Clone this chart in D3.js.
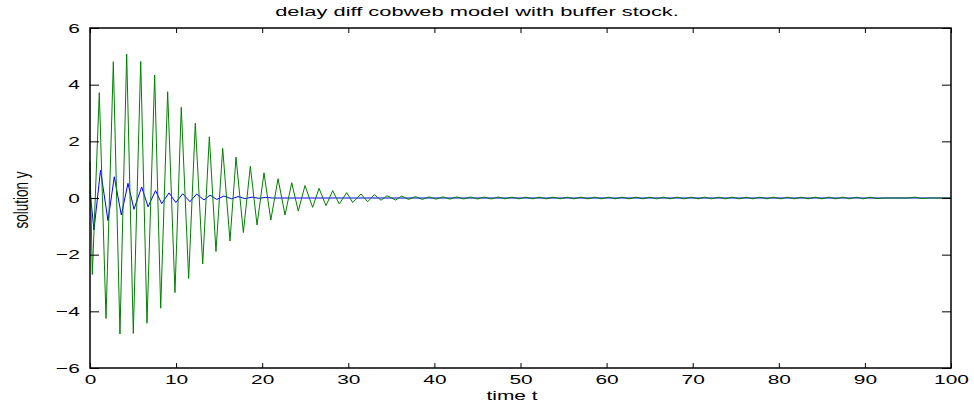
<!DOCTYPE html>
<html>
<head>
<meta charset="utf-8">
<script src="https://cdn.jsdelivr.net/npm/d3@7"></script>
<style>
  body { margin: 0; background: #fff; }
  svg text { font-family: "Liberation Sans", Arial, sans-serif; fill: #000; }
</style>
</head>
<body>
<div id="chart"></div>
<script>
// values: [time, y]
var greenPts = [
  [0, 1.28], [0.27, -2.7], [1.08, 3.72], [1.86, -4.25], [2.71, 4.81], [3.48, -4.8],
  [4.26, 5.08], [5.03, -4.78], [5.89, 4.82], [6.62, -4.42], [7.51, 4.34], [8.21, -3.89],
  [9.02, 3.75], [9.87, -3.34], [10.6, 3.2], [11.46, -2.84], [12.23, 2.64], [13.09, -2.33],
  [13.86, 2.16], [14.63, -1.89], [15.41, 1.75], [16.26, -1.52], [16.96, 1.44], [17.81, -1.22],
  [18.62, 1.12], [19.4, -0.95], [20.21, 0.89], [21.0, -0.78], [21.84, 0.68], [22.65, -0.6],
  [23.43, 0.54], [24.19, -0.46], [24.97, 0.44], [25.86, -0.33], [26.6, 0.34], [27.41, -0.27],
  [28.19, 0.26], [28.95, -0.21], [29.81, 0.19], [30.51, -0.16], [31.47, 0.14], [32.25, -0.13],
  [33.02, 0.12], [33.8, -0.08], [34.49, 0.08], [35.5, -0.07], [36.2, 0.07], [37.0, -0.05],
  [37.8, 0.05], [38.6, -0.05], [39.4, 0.04], [40.2, -0.04], [41.0, 0.04], [41.8, -0.04],
  [42.6, 0.04], [43.4, -0.035], [44.2, 0.035], [45.0, -0.035], [45.8, 0.035], [46.6, -0.035],
  [47.4, 0.035], [48.2, -0.03], [49.0, 0.03], [49.8, -0.03], [50.6, 0.03], [51.4, -0.03],
  [52.2, 0.03], [53.0, -0.03], [53.8, 0.03], [54.6, -0.03], [55.4, 0.03], [56.2, -0.03],
  [57.0, 0.03], [57.8, -0.03], [58.6, 0.03], [59.4, -0.03], [60.2, 0.03], [61.0, -0.03],
  [61.8, 0.03], [62.6, -0.03], [63.4, 0.03], [64.2, -0.03], [65.0, 0.03], [65.8, -0.03],
  [66.6, 0.03], [67.4, -0.03], [68.2, 0.03], [69.0, -0.03], [69.8, 0.03], [70.6, -0.03],
  [71.4, 0.03], [72.2, -0.03], [73.0, 0.03], [73.8, -0.03], [74.6, 0.03], [75.4, -0.03],
  [76.2, 0.03], [77.0, -0.03], [77.8, 0.03], [78.6, -0.03], [79.4, 0.03], [80.2, -0.03],
  [81.0, 0.03], [81.8, -0.03], [82.6, 0.03], [83.4, -0.03], [84.2, 0.03], [85.0, -0.03],
  [85.8, 0.03], [86.6, -0.03], [87.4, 0.03], [88.2, -0.03], [89.0, 0.03], [89.8, -0.03],
  [90.6, 0.03], [91.4, -0.02], [92.2, 0.0], [95.0, 0.0], [95.8, 0.03], [96.6, -0.02],
  [97.4, 0.0], [100, 0.0]
];

var bluePts = [
  [0, 0.25], [0.46, -1.13], [1.22, 0.98], [2.09, -0.8], [2.82, 0.75], [3.64, -0.6],
  [4.41, 0.52], [5.11, -0.4], [6.0, 0.39], [6.74, -0.31], [7.61, 0.26], [8.33, -0.2],
  [9.18, 0.18], [9.97, -0.16], [10.77, 0.15], [11.61, -0.13], [12.39, 0.14], [13.24, -0.07],
  [13.94, 0.1], [14.72, -0.05], [15.55, 0.07], [16.46, -0.03], [17.19, 0.05], [18.0, -0.02],
  [18.8, 0.03], [19.6, -0.01], [20.4, 0.02], [21.2, 0.0], [100, 0.0]
];

var xTicks = [0, 10, 20, 30, 40, 50, 60, 70, 80, 90, 100];
var yTicks = [-6, -4, -2, 0, 2, 4, 6];

var titleText = "delay diff cobweb model with buffer stock.";
var xLabel = "time t";
var yLabel = "solution y";

var W = 974, H = 404;
var margin = {left: 90, right: 23, top: 28, bottom: 36};
var width = W - margin.left - margin.right;
var height = H - margin.top - margin.bottom;
var stretch = 1.55;   // the picture is wider than tall, text looks stretched
var fontSize = "13.5px";

var x = d3.scaleLinear().domain([0, 100]).range([0, width]);
var y = d3.scaleLinear().domain([-6, 6]).range([height, 0]);

var svg = d3.select("#chart").append("svg")
  .attr("width", W).attr("height", H);

var g = svg.append("g")
  .attr("transform", "translate(" + margin.left + "," + margin.top + ")");

var line = d3.line()
  .x(function(d) { return x(d[0]); })
  .y(function(d) { return y(d[1]); });

g.append("path").datum(bluePts)
  .attr("d", line).attr("fill", "none")
  .attr("stroke", "#0000ff").attr("stroke-width", 1);

g.append("path").datum(greenPts)
  .attr("d", line).attr("fill", "none")
  .attr("stroke", "#008000").attr("stroke-width", 1);

// axes with inward ticks (matlab style)
var xAxis = d3.axisBottom(x).tickValues(xTicks).tickSizeInner(-5).tickSizeOuter(0).tickPadding(6);
var yAxis = d3.axisLeft(y).tickValues(yTicks).tickSizeInner(-9).tickSizeOuter(0).tickPadding(6.5);

var gx = g.append("g").attr("transform", "translate(0," + height + ")").call(xAxis);
var gy = g.append("g").call(yAxis);
g.append("g").call(d3.axisTop(x).tickValues(xTicks).tickSizeInner(-5).tickSizeOuter(0).tickFormat(""));
g.append("g").attr("transform", "translate(" + width + ",0)")
  .call(d3.axisRight(y).tickValues(yTicks).tickSizeInner(-9).tickSizeOuter(0).tickFormat(""));

g.selectAll(".domain").remove();
g.selectAll(".tick line").attr("stroke", "#000").attr("stroke-width", 1);

gx.selectAll("text").attr("font-size", fontSize)
  .attr("transform", "scale(" + stretch + ",1)");
gy.selectAll("text").attr("font-size", fontSize)
  .attr("transform", "scale(" + stretch + ",1)");
svg.selectAll(".tick text").attr("font-family", null);

g.append("rect")
  .attr("width", width).attr("height", height)
  .attr("fill", "none").attr("stroke", "#000").attr("stroke-width", 1.5);

svg.append("text")
  .attr("transform", "translate(477,16) scale(1.62,1)")
  .attr("text-anchor", "middle").attr("font-size", fontSize)
  .text(titleText);

svg.append("text")
  .attr("transform", "translate(512,400) scale(" + stretch + ",1)")
  .attr("text-anchor", "middle").attr("font-size", fontSize)
  .text(xLabel);

svg.append("text")
  .attr("transform", "translate(28,200) scale(" + stretch + ",1) rotate(-90)")
  .attr("text-anchor", "middle").attr("font-size", fontSize)
  .text(yLabel);
</script>
</body>
</html>
